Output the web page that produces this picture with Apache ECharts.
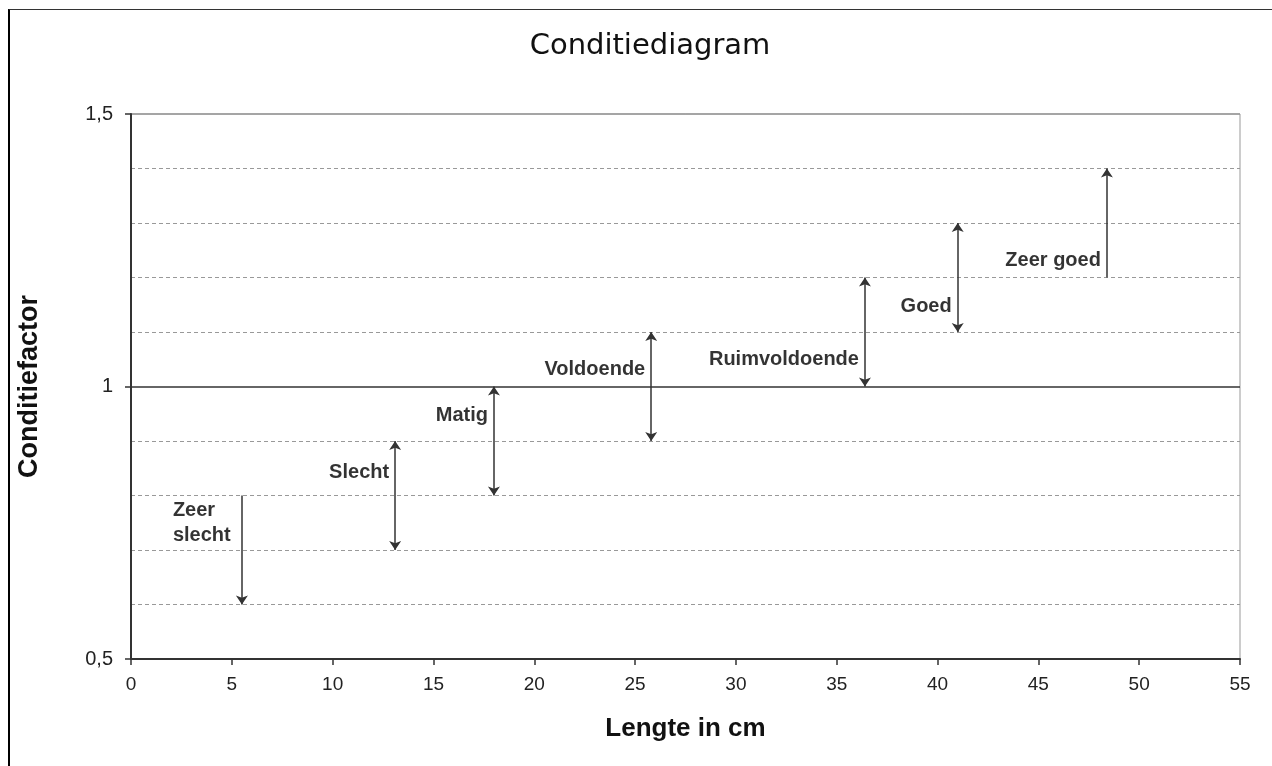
<!DOCTYPE html>
<html>
<head>
<meta charset="utf-8">
<script src="https://cdn.jsdelivr.net/npm/echarts@6/dist/echarts.min.js"></script>
<style>
html,body{margin:0;padding:0;background:#fff;}
#frame{position:absolute;left:8px;top:9px;width:1262px;height:770px;border-left:2px solid #000;border-top:1px solid #333;}
#main{position:absolute;left:0;top:0;width:1272px;height:766px;}
</style>
</head>
<body>
<div id="frame"></div>
<div id="main"></div>
<script>
// Categories (condition classes)
var classNames = ['Zeer\nslecht', 'Slecht', 'Matig', 'Voldoende', 'Ruimvoldoende', 'Goed', 'Zeer goed'];
// Arrow x position (length in cm)
var arrowX = [5.5, 13.1, 18.0, 25.8, 36.4, 41.0, 48.4];
// Arrow start / end condition factor
var arrowFrom = [0.8, 0.7, 0.8, 0.9, 1.0, 1.1, 1.2];
var arrowTo   = [0.6, 0.9, 1.0, 1.1, 1.2, 1.3, 1.4];
// Arrow type: 'single' = one head at "to" end, 'double' = heads at both ends
var arrowType = ['single', 'double', 'double', 'double', 'double', 'double', 'single'];
// Label vertical value (condition factor)
var labelY = [0.75, 0.843, 0.947, 1.031, 1.05, 1.146, 1.232];
// Axis ticks
var xTicks = [0, 5, 10, 15, 20, 25, 30, 35, 40, 45, 50, 55];
var yTicks = [0.5, 1, 1.5];

var singleData = [], doubleData = [], labelData = [];
for (var i = 0; i < classNames.length; i++) {
  var item = { coords: [[arrowX[i], arrowFrom[i]], [arrowX[i], arrowTo[i]]] };
  if (arrowType[i] === 'single') singleData.push(item); else doubleData.push(item);
  labelData.push({ value: [arrowX[i], labelY[i]], name: classNames[i] });
}
labelData[0].label = { align: 'left', offset: [-63, 0] };

var chart = echarts.init(document.getElementById('main'));
var arrowStyle = { color: '#333', width: 1.5, opacity: 1, curveness: 0 };
chart.setOption({
  animation: false,
  backgroundColor: 'transparent',
  title: {
    text: 'Conditiediagram', left: 645, top: 27, textAlign: 'center',
    textStyle: { fontFamily: 'DejaVu Sans', fontWeight: 'normal', fontSize: 29, color: '#111' }
  },
  grid: { left: 131, right: 32, top: 114, bottom: 107, show: true, borderColor: '#999', borderWidth: 1 },
  xAxis: {
    type: 'value', min: xTicks[0], max: xTicks[xTicks.length - 1], interval: 5,
    name: 'Lengte in cm', nameLocation: 'middle', nameGap: 57,
    nameTextStyle: { fontFamily: 'Liberation Sans', fontWeight: 'bold', fontSize: 26, color: '#111' },
    axisLine: { show: true, onZero: false, lineStyle: { color: '#333', width: 2 } },
    axisTick: { show: true, inside: false, length: 6, lineStyle: { color: '#333', width: 1.5 } },
    axisLabel: { fontFamily: 'Liberation Sans', fontSize: 19, color: '#222', margin: 16 },
    splitLine: { show: false }
  },
  yAxis: {
    type: 'value', min: yTicks[0], max: yTicks[yTicks.length - 1], interval: 0.5,
    name: 'Conditiefactor', nameLocation: 'middle', nameGap: 88, nameRotate: 90,
    nameTextStyle: { fontFamily: 'Liberation Sans', fontWeight: 'bold', fontSize: 27, color: '#111' },
    axisLine: { show: true, lineStyle: { color: '#333', width: 2 } },
    axisTick: { show: true, length: 6, lineStyle: { color: '#333', width: 1.5 } },
    axisLabel: { fontFamily: 'Liberation Sans', fontSize: 20, color: '#222', margin: 18,
      formatter: function (v) { return String(v).replace('.', ','); } },
    splitLine: { show: true, lineStyle: { color: ['#333', '#333', '#999'], width: 1.5 } },
    minorTick: { show: false, splitNumber: 5 },
    minorSplitLine: { show: true, lineStyle: { color: '#999', type: [4, 3], width: 1 } }
  },
  series: [
    {
      type: 'lines', coordinateSystem: 'cartesian2d', silent: true,
      symbol: ['none', 'arrow'], symbolSize: 9,
      lineStyle: arrowStyle, data: singleData, z: 5
    },
    {
      type: 'lines', coordinateSystem: 'cartesian2d', silent: true,
      symbol: ['arrow', 'arrow'], symbolSize: 9,
      lineStyle: arrowStyle, data: doubleData, z: 5
    },
    {
      type: 'scatter', symbolSize: 0, silent: true, data: labelData, z: 6,
      label: {
        show: true, position: 'left', distance: 6,
        formatter: function (p) { return p.name; },
        fontFamily: 'Liberation Sans', fontWeight: 'bold', fontSize: 20, color: '#000', lineHeight: 25
      }
    }
  ]
});
</script>
</body>
</html>
